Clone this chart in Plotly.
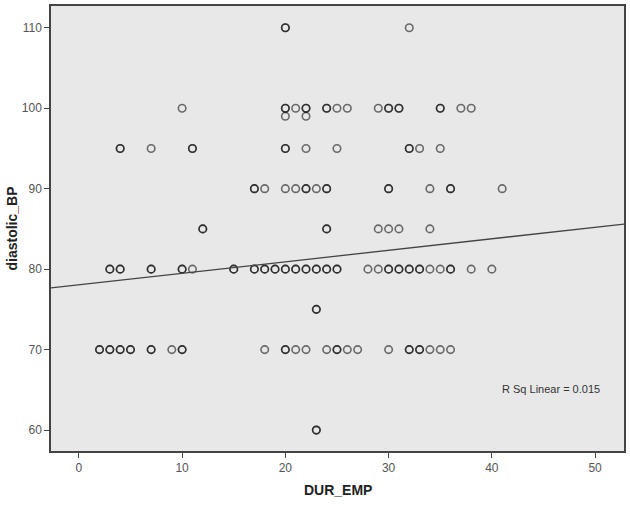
import plotly.graph_objects as go

# diastolic_BP rows: DUR_EMP values (repeated values = overlapping cases)
bp_110 = [20, 20, 32]
bp_100 = [10, 20, 20, 21, 22, 22, 24, 24, 25, 26, 29, 30, 30, 31, 31, 35, 35, 37, 38]
bp_99 = [20, 22]
bp_95 = [4, 4, 7, 11, 11, 20, 20, 22, 25, 32, 32, 33, 35]
bp_90 = [17, 17, 18, 20, 21, 22, 22, 23, 24, 24, 30, 30, 34, 36, 36, 41]
bp_85 = [12, 12, 24, 24, 29, 30, 31, 34]
bp_80 = [3, 3, 4, 4, 7, 7, 10, 10, 11, 15, 15, 17, 17, 18, 18, 19, 19, 20, 20, 21,
         21, 22, 22, 23, 23, 24, 24, 25, 25, 28, 29, 30, 30, 31, 31, 32, 32, 33, 33,
         34, 35, 36, 36, 38, 40]
bp_75 = [23, 23]
bp_70 = [2, 2, 3, 3, 4, 4, 5, 5, 7, 7, 9, 10, 10, 18, 20, 20, 21, 22, 24, 25, 25,
         26, 27, 30, 32, 32, 33, 33, 34, 35, 36]
bp_60 = [23, 23]

rows = {110: bp_110, 100: bp_100, 99: bp_99, 95: bp_95, 90: bp_90,
        85: bp_85, 80: bp_80, 75: bp_75, 70: bp_70, 60: bp_60}

dur_emp = []
diastolic = []
for yv, xs in rows.items():
    for xv in xs:
        dur_emp.append(xv)
        diastolic.append(yv)

# Fit line
fit_intercept = 78.05
fit_slope = 0.143
r_sq_text = "R Sq Linear = 0.015"

x_range = [-2.7, 52.8]
y_range = [57.4, 112.7]
x_ticks = [0, 10, 20, 30, 40, 50]
y_ticks = [60, 70, 80, 90, 100, 110]

fig = go.Figure()
fig.add_trace(go.Scatter(
    x=dur_emp, y=diastolic, mode="markers",
    marker=dict(symbol="circle-open", size=7.5,
                color="rgba(0,0,0,0.55)",
                line=dict(width=1.6, color="rgba(0,0,0,0.55)")),
    hoverinfo="x+y", showlegend=False))

fig.add_trace(go.Scatter(
    x=x_range, y=[fit_intercept + fit_slope * v for v in x_range],
    mode="lines", line=dict(color="#444444", width=1.3),
    hoverinfo="skip", showlegend=False))

fig.add_annotation(x=45.7, y=65.1, text=r_sq_text, showarrow=False,
                   font=dict(family="Liberation Sans, Arial", size=11, color="#333333"))

title_font = dict(family="Liberation Sans, Arial", size=14, color="#222222")
fig.add_annotation(xref="paper", yref="paper", x=0, y=0.5, xshift=-40,
                   xanchor="center", yanchor="middle",
                   textangle=-90, text="<b>diastolic_BP</b>", showarrow=False,
                   font=title_font)
fig.add_annotation(xref="paper", yref="paper", x=0.5, y=0, yshift=-39,
                   xanchor="center", yanchor="middle",
                   text="<b>DUR_EMP</b>", showarrow=False, font=title_font)

axis_font = dict(family="Liberation Sans, Arial", size=12, color="#555555")

fig.update_layout(
    template="none",
    width=630, height=506,
    margin=dict(l=51, r=6, t=6, b=55),
    paper_bgcolor="white", plot_bgcolor="#e8e8e8",
    xaxis=dict(range=x_range, tickvals=x_ticks, ticks="outside", ticklen=5,
               tickcolor="#444444", tickwidth=1.3, showgrid=False, zeroline=False,
               showline=True, linecolor="#444444", linewidth=1.5, mirror=True,
               tickfont=axis_font),
    yaxis=dict(range=y_range, tickvals=y_ticks, ticks="outside", ticklen=5,
               tickcolor="#444444", tickwidth=1.3, showgrid=False, zeroline=False,
               showline=True, linecolor="#444444", linewidth=1.5, mirror=True,
               tickfont=axis_font),
)

fig.write_html("out.html", config={"displayModeBar": False},
               post_script="document.body.style.margin='0';document.body.style.padding='0';")
